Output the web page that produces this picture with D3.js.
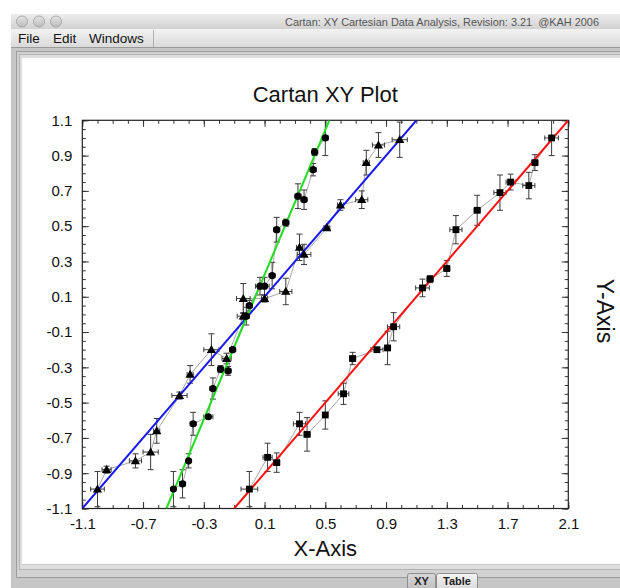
<!DOCTYPE html>
<html><head><meta charset="utf-8">
<script src="https://cdn.jsdelivr.net/npm/d3@7"></script>
<style>
body{margin:0;background:#fff}
svg{display:block}
text{font-family:"Liberation Sans",Arial,Helvetica,sans-serif}
</style>
</head><body>
<svg id="c" width="620" height="588"></svg>
<script>
// ---- Data ----
const triX    = [-1.00,-0.94,-0.75,-0.65,-0.61,-0.46,-0.39,-0.25,-0.15,-0.04,-0.04,0.10,0.24,0.33,0.36,0.51,0.60,0.74,0.77,0.85,0.99];
const triY    = [-0.99,-0.88,-0.83,-0.78,-0.66,-0.46,-0.34,-0.20,-0.25,-0.01,0.09,0.09,0.13,0.38,0.34,0.49,0.62,0.65,0.86,0.96,0.99];
const triXErr = [0.045,0.03,0.04,0.05,0.02,0.05,0.02,0.05,0.03,0.04,0.045,0.02,0.04,0.02,0.045,0.02,0.02,0.04,0.02,0.04,0.05];
const triYErr = [0.10,0.02,0.04,0.10,0.07,0.02,0.05,0.09,0.03,0.02,0.085,0.02,0.075,0.075,0.057,0.01,0.03,0.05,0.07,0.07,0.10];

const cirX    = [-0.50,-0.44,-0.40,-0.37,-0.27,-0.24,-0.19,-0.14,-0.11,-0.02,0.00,0.07,0.10,0.15,0.18,0.24,0.32,0.36,0.42,0.43,0.50];
const cirY    = [-0.99,-0.96,-0.83,-0.62,-0.58,-0.42,-0.31,-0.32,-0.20,-0.01,0.05,0.16,0.16,0.22,0.48,0.52,0.67,0.65,0.82,0.92,1.00];
const cirXErr = [0.0,0.02,0.01,0.02,0.03,0.02,0.02,0.02,0.02,0.02,0.02,0.03,0.03,0.02,0.02,0.02,0.02,0.02,0.02,0.02,0.02];
const cirYErr = [0.10,0.08,0.04,0.065,0.01,0.06,0.02,0.025,0.01,0.05,0.03,0.05,0.05,0.075,0.07,0.02,0.07,0.055,0.035,0.02,0.10];

const sqX     = [0.00,0.12,0.18,0.33,0.38,0.50,0.62,0.68,0.84,0.91,0.95,1.14,1.19,1.30,1.36,1.50,1.65,1.72,1.84,1.88,1.99];
const sqY     = [-0.99,-0.81,-0.84,-0.62,-0.68,-0.57,-0.45,-0.25,-0.20,-0.19,-0.07,0.15,0.20,0.26,0.48,0.59,0.69,0.75,0.73,0.86,1.00];
const sqXErr  = [0.055,0.03,0.02,0.04,0.02,0.01,0.035,0.02,0.04,0.02,0.04,0.045,0.02,0.02,0.04,0.02,0.04,0.03,0.04,0.02,0.045];
const sqYErr  = [0.10,0.08,0.055,0.065,0.095,0.08,0.06,0.035,0.01,0.095,0.08,0.05,0.02,0.045,0.08,0.085,0.10,0.045,0.075,0.045,0.10];

const fitSlope     = [1.00, 2.05, 1.00];
const fitIntercept = [0.00, 0.02, -1.00];
const fitColor     = ["#1818f0", "#22dd22", "#ff1010"];

const xMajor = [-1.1,-0.7,-0.3,0.1,0.5,0.9,1.3,1.7,2.1];
const yMajor = [-1.1,-0.9,-0.7,-0.5,-0.3,-0.1,0.1,0.3,0.5,0.7,0.9,1.1];

const chartTitle = "Cartan XY Plot";
const xTitle = "X-Axis";
const yTitle = "Y-Axis";
const windowTitle = "Cartan: XY Cartesian Data Analysis, Revision: 3.21  @KAH 2006";
const menuItems = ["File","Edit","Windows"];
const tabs = ["XY","Table"];

// ---- Window chrome ----
const svg = d3.select("#c");
const defs = svg.append("defs");
function grad(id, stops){
  const g = defs.append("linearGradient").attr("id",id).attr("x1",0).attr("y1",0).attr("x2",0).attr("y2",1);
  stops.forEach(s=>g.append("stop").attr("offset",s[0]).attr("stop-color",s[1]));
}
grad("tb",[[0,"#ececec"],[1,"#d2d2d2"]]);
grad("mb",[[0,"#f2f2f2"],[1,"#dadada"]]);
grad("tl",[[0,"#e4e4e4"],[1,"#bdbdbd"]]);
grad("tab",[[0,"#f4f4f4"],[1,"#d6d6d6"]]);
grad("tabs",[[0,"#d8d8d8"],[1,"#bcbcbc"]]);

svg.append("rect").attr("x",11).attr("y",14).attr("width",609).attr("height",574).attr("fill","#c6c6c6");
svg.append("rect").attr("x",11).attr("y",14).attr("width",609).attr("height",15).attr("fill","url(#tb)");
[22,39,56].forEach(cx=>svg.append("circle").attr("cx",cx).attr("cy",21.5).attr("r",5.5)
  .attr("fill","url(#tl)").attr("stroke","#9c9c9c").attr("stroke-width",0.8));
svg.append("text").attr("x",599).attr("y",25.5).attr("text-anchor","end")
  .attr("font-size",11.5).attr("fill","#555").style("white-space","pre")
  .attr("textLength",314).attr("lengthAdjust","spacingAndGlyphs").text(windowTitle);
svg.append("rect").attr("x",11).attr("y",29).attr("width",609).attr("height",18).attr("fill","url(#mb)");
svg.append("line").attr("x1",11).attr("x2",620).attr("y1",47.5).attr("y2",47.5).attr("stroke","#9a9a9a");
const menuX=[18,53,89];
menuItems.forEach((m,i)=>svg.append("text").attr("x",menuX[i]).attr("y",42.5).attr("font-size",13.5).attr("fill","#111").text(m));
svg.append("line").attr("x1",153.5).attr("x2",153.5).attr("y1",30).attr("y2",47).attr("stroke","#b0b0b0");

// panel
svg.append("rect").attr("x",16.5).attr("y",51.5).attr("width",610).attr("height",526).attr("fill","#d2d2d2").attr("stroke","#9c9c9c");
svg.append("rect").attr("x",19.5).attr("y",54.5).attr("width",610).attr("height",515).attr("fill","#dedede").attr("stroke","#b4b4b4");
svg.append("rect").attr("x",22).attr("y",58).attr("width",600).attr("height",506).attr("fill","#fff");
svg.append("line").attr("x1",22).attr("x2",620).attr("y1",564.5).attr("y2",564.5).attr("stroke","#c8c8c8");

// tabs
const tabX=[407,436,478];
tabs.forEach((t,i)=>{
  svg.append("rect").attr("x",tabX[i]+0.5).attr("y",573.5).attr("width",tabX[i+1]-tabX[i]-1).attr("height",18).attr("rx",2)
    .attr("fill", i===0?"url(#tabs)":"url(#tab)").attr("stroke","#8e8e8e");
  svg.append("text").attr("x",(tabX[i]+tabX[i+1])/2).attr("y",585).attr("text-anchor","middle")
    .attr("font-size",11).attr("font-weight","bold").attr("fill","#222").text(t);
});

// ---- Chart ----
const L=82.3, R=568.3, T=120.3, B=508.5;
const x = d3.scaleLinear().domain([-1.1,2.1]).range([L,R]);
const y = d3.scaleLinear().domain([-1.1,1.1]).range([B,T]);

svg.append("text").attr("x",(L+R)/2).attr("y",101.5).attr("text-anchor","middle").attr("font-size",22).attr("fill","#111").text(chartTitle);
svg.append("text").attr("x",(L+R)/2).attr("y",556).attr("text-anchor","middle").attr("font-size",22).attr("fill","#111").text(xTitle);
svg.append("text").attr("transform",`translate(597,311) rotate(90)`).attr("text-anchor","middle").attr("font-size",23).attr("fill","#111").text(yTitle);

const xMinor = d3.range(0,33).map(i=>+(-1.1+i*0.1).toFixed(2));
const yMinor = d3.range(0,45).map(i=>+(-1.1+i*0.05).toFixed(3));
const fmt = d => d.toFixed(1);

function drawAxis(gen, tr, vals, size, labels){
  const g = svg.append("g").attr("transform",tr)
    .call(gen.tickValues(vals).tickSizeInner(-size).tickSizeOuter(0).tickPadding(labels?10:0).tickFormat(labels?fmt:()=> ""));
  g.select(".domain").remove();
  g.selectAll("line").attr("stroke","#333");
  g.selectAll("text").attr("font-size",15).attr("fill","#111").attr("font-family","Liberation Sans, Arial, sans-serif");
  return g;
}
drawAxis(d3.axisBottom(x), `translate(0,${B})`, xMinor, 3.5, false);
drawAxis(d3.axisBottom(x), `translate(0,${B})`, xMajor, 6.5, true);
drawAxis(d3.axisTop(x), `translate(0,${T})`, xMinor, 3.5, false);
drawAxis(d3.axisTop(x), `translate(0,${T})`, xMajor, 6.5, false);
drawAxis(d3.axisLeft(y), `translate(${L},0)`, yMinor, 3.5, false);
drawAxis(d3.axisLeft(y), `translate(${L},0)`, yMajor, 6.5, true);
drawAxis(d3.axisRight(y), `translate(${R},0)`, yMinor, 3.5, false);
drawAxis(d3.axisRight(y), `translate(${R},0)`, yMajor, 6.5, false);

svg.append("rect").attr("x",L).attr("y",T).attr("width",R-L).attr("height",B-T).attr("fill","none").attr("stroke","#222").attr("stroke-width",1.2);

defs.append("clipPath").attr("id","plot").append("rect").attr("x",L).attr("y",T).attr("width",R-L).attr("height",B-T);
const plot = svg.append("g").attr("clip-path","url(#plot)");

const series = [
  {xs:triX, ys:triY, xe:triXErr, ye:triYErr, shape:"tri"},
  {xs:cirX, ys:cirY, xe:cirXErr, ye:cirYErr, shape:"cir"},
  {xs:sqX,  ys:sqY,  xe:sqXErr,  ye:sqYErr,  shape:"sq"}
];

// connector lines
const line = d3.line().x(d=>x(d[0])).y(d=>y(d[1]));
series.forEach(s=>{
  plot.append("path").attr("d",line(s.xs.map((v,i)=>[v,s.ys[i]]))).attr("fill","none").attr("stroke","#a8a8a8").attr("stroke-width",1);
});
// error bars
series.forEach(s=>{
  const g = plot.append("g").attr("stroke","#3a3a3a").attr("stroke-width",1).attr("fill","none");
  s.xs.forEach((v,i)=>{
    const cx=x(v), cy=y(s.ys[i]);
    if (s.ye[i]>0){
      const y1=y(s.ys[i]+s.ye[i]), y2=y(s.ys[i]-s.ye[i]);
      g.append("path").attr("d",`M${cx},${y1}V${y2}M${cx-3},${y1}H${cx+3}M${cx-3},${y2}H${cx+3}`);
    }
    if (s.xe[i]>0){
      const x1=x(v-s.xe[i]), x2=x(v+s.xe[i]);
      g.append("path").attr("d",`M${x1},${cy}H${x2}M${x1},${cy-2.5}V${cy+2.5}M${x2},${cy-2.5}V${cy+2.5}`);
    }
  });
});
// fit lines
fitSlope.forEach((m,i)=>{
  const b=fitIntercept[i];
  const x0=(-1.1-b)/m, x1=(1.1-b)/m;
  plot.append("line").attr("x1",x(x0)).attr("y1",y(-1.1)).attr("x2",x(x1)).attr("y2",y(1.1))
    .attr("stroke",fitColor[i]).attr("stroke-width",2);
});
// markers
series.forEach(s=>{
  const g = plot.append("g").attr("fill","#000");
  s.xs.forEach((v,i)=>{
    const cx=x(v), cy=y(s.ys[i]);
    if (s.shape==="tri") g.append("path").attr("d",`M${cx},${cy-4.6}L${cx+4.6},${cy+3.4}L${cx-4.6},${cy+3.4}Z`);
    else if (s.shape==="cir") g.append("circle").attr("cx",cx).attr("cy",cy).attr("r",3.6);
    else g.append("rect").attr("x",cx-3.4).attr("y",cy-3.4).attr("width",6.8).attr("height",6.8);
  });
});
</script>
</body></html>
